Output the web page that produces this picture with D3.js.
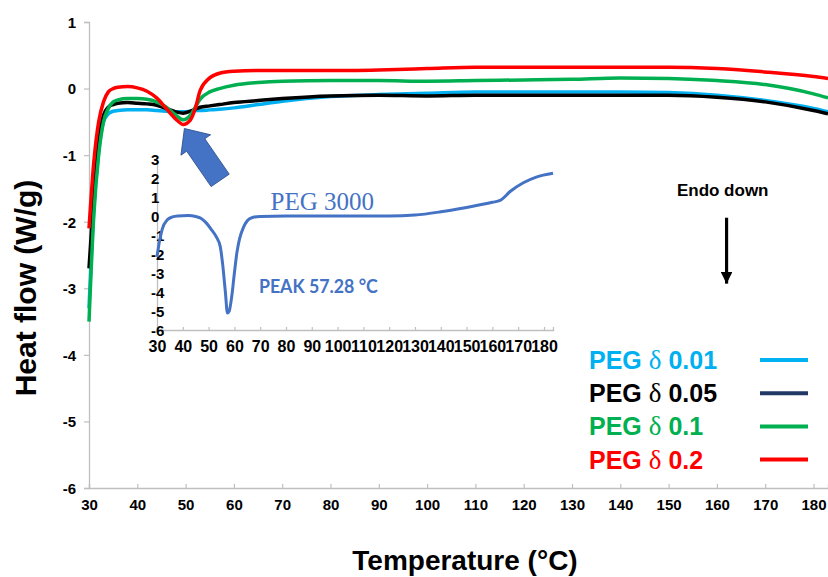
<!DOCTYPE html>
<html>
<head>
<meta charset="utf-8">
<script src="https://cdn.jsdelivr.net/npm/d3@7"></script>
<style>
	body { margin: 0; background: #fff; }
</style>
</head>
<body>
<svg id="chart" width="828" height="577" font-family="Liberation Sans, Arial, sans-serif"></svg>
<script>
// main DSC curves, heat flow (W/g) against temperature (°C)
const temps = [30, 31, 32, 33, 34, 35, 36, 38, 40, 42, 44, 46, 48, 49.5, 51, 52, 53, 55, 57, 60, 65, 70, 80, 90, 100, 110, 120, 130, 140, 150, 160, 170, 180, 183];
const peg001 = [-3.3, -1.8, -0.95, -0.5, -0.38, -0.34, -0.33, -0.32, -0.32, -0.32, -0.33, -0.34, -0.35, -0.35, -0.34, -0.33, -0.33, -0.32, -0.31, -0.29, -0.24, -0.19, -0.12, -0.09, -0.07, -0.05, -0.05, -0.05, -0.05, -0.06, -0.1, -0.18, -0.3, -0.35];
const peg005 = [-2.7, -1.6, -0.8, -0.4, -0.28, -0.24, -0.22, -0.21, -0.22, -0.23, -0.25, -0.3, -0.35, -0.37, -0.34, -0.31, -0.28, -0.26, -0.24, -0.21, -0.18, -0.15, -0.11, -0.1, -0.11, -0.1, -0.1, -0.1, -0.1, -0.1, -0.13, -0.2, -0.33, -0.38];
const peg01 = [-3.5, -1.9, -1.0, -0.5, -0.3, -0.2, -0.17, -0.15, -0.15, -0.16, -0.2, -0.28, -0.4, -0.47, -0.4, -0.28, -0.16, -0.05, 0.0, 0.05, 0.09, 0.11, 0.12, 0.12, 0.11, 0.12, 0.13, 0.14, 0.16, 0.15, 0.12, 0.06, -0.08, -0.14];
const peg02 = [-2.1, -1.1, -0.5, -0.2, -0.05, 0.0, 0.02, 0.03, 0.01, -0.04, -0.14, -0.3, -0.46, -0.54, -0.47, -0.3, -0.03, 0.16, 0.23, 0.26, 0.27, 0.27, 0.27, 0.28, 0.3, 0.32, 0.32, 0.32, 0.32, 0.32, 0.3, 0.25, 0.18, 0.15];

// inset: pure PEG 3000
const insetTemps = [30, 31, 32, 34, 36, 38, 42, 45, 47, 49, 51, 53, 54.5, 55.5, 56.5, 57.3, 58, 59, 60, 61, 62, 63.5, 65, 67, 70, 80, 100, 120, 130, 140, 150, 160, 163, 167, 172, 177, 183.5];
const insetVals = [-2.15, -1.3, -0.7, -0.2, -0.05, 0, 0.02, -0.03, -0.12, -0.35, -0.7, -1.1, -1.6, -2.6, -4.0, -5.1, -5.0, -4.2, -3.0, -1.9, -1.2, -0.6, -0.25, -0.08, -0.02, 0, 0, 0, 0.05, 0.22, 0.45, 0.72, 0.82, 1.3, 1.75, 2.05, 2.25];

const xTicks = d3.range(30, 181, 10);
const yTicks = d3.range(-6, 2, 1);
const insetYTicks = d3.range(-6, 4, 1);

const seriesNames = ["0.01", "0.05", "0.1", "0.2"];
const seriesValues = [peg001, peg005, peg01, peg02];
const lineColors = ["#00B0F0", "#000000", "#00B050", "#FF0000"];
const legendLineColors = ["#00B0F0", "#1F3864", "#00B050", "#FF0000"];
const legendTextColors = ["#00B0F0", "#000000", "#00B050", "#FF0000"];

let svg = d3.select("#chart");
let axisColor = "#BFBFBF";
let plain = d => String(d);

//scales
let x = d3.scaleLinear().domain([30, 183]).range([89, 828]);
let y = d3.scaleLinear().domain([-6, 1]).range([488, 22]);

function styleAxis(g, fontSize)
{
	g.attr("font-family", null);
	g.select(".domain").attr("stroke", axisColor).attr("stroke-width", 1.3);
	g.selectAll(".tick line").attr("stroke", axisColor).attr("stroke-width", 1.2);
	g.selectAll(".tick text")
		.attr("fill", "#000")
		.attr("font-size", fontSize)
		.attr("font-weight", "bold");
}

//minor ticks first, then major
let gx = svg.append("g").attr("transform", "translate(0," + y(-6) + ")");
gx.call(d3.axisBottom(x).tickValues(d3.range(30, 184, 2)).tickSize(-4).tickFormat(""));
gx.call(d3.axisBottom(x).tickValues(xTicks).tickSize(-4).tickPadding(11).tickFormat(plain));
styleAxis(gx, 15);

let gy = svg.append("g").attr("transform", "translate(" + x(30) + ",0)");
gy.call(d3.axisLeft(y).tickValues(d3.range(-6, 1.01, 0.2)).tickSize(5).tickFormat(""));
gy.call(d3.axisLeft(y).tickValues(yTicks).tickSize(5).tickPadding(8).tickFormat(plain));
styleAxis(gy, 15);
gy.selectAll(".tick text").attr("dy", "0.36em");

//axis titles
svg.append("text")
	.attr("x", 465)
	.attr("y", 570)
	.attr("text-anchor", "middle")
	.attr("font-size", 28)
	.attr("font-weight", "bold")
	.text("Temperature (°C)");

svg.append("text")
	.attr("transform", "translate(36,288) rotate(-90)")
	.attr("text-anchor", "middle")
	.attr("font-size", 30)
	.attr("font-weight", "bold")
	.text("Heat flow (W/g)");

//inset
let ix = d3.scaleLinear().domain([30, 183.5]).range([157, 553]);
let iy = d3.scaleLinear().domain([-6, 3]).range([330, 159]);

let igx = svg.append("g").attr("transform", "translate(0," + iy(-6) + ")");
igx.call(d3.axisBottom(ix).tickValues(d3.range(30, 184, 1)).tickSize(-3).tickFormat(""));
igx.call(d3.axisBottom(ix).tickValues(xTicks).tickSize(-3).tickPadding(11).tickFormat(plain));
styleAxis(igx, 16);

let igy = svg.append("g").attr("transform", "translate(" + ix(30) + ",0)");
igy.call(d3.axisRight(iy).tickValues(d3.range(-6, 3.01, 0.2)).tickSize(3).tickFormat(""));
igy.call(d3.axisLeft(iy).tickValues(insetYTicks).tickSize(0).tickPadding(6).tickFormat(plain));
styleAxis(igy, 15);
igy.selectAll(".tick text").attr("dy", "0.36em");

let insetLine = d3.line()
	.x((d, i) => ix(insetTemps[i]))
	.y(d => iy(d))
	.curve(d3.curveMonotoneX);

svg.append("path")
	.datum(insetVals)
	.attr("fill", "none")
	.attr("stroke", "#4472C4")
	.attr("stroke-width", 3)
	.attr("stroke-linejoin", "round")
	.attr("d", insetLine);

svg.append("text")
	.attr("x", ix(74))
	.attr("y", iy(0.3))
	.attr("font-family", "Liberation Serif, Times New Roman, serif")
	.attr("font-size", 25)
	.attr("fill", "#4472C4")
	.text("PEG 3000");

svg.append("text")
	.attr("x", ix(69.5))
	.attr("y", iy(-4.05))
	.attr("font-family", "Lato, sans-serif")
	.attr("font-size", 18)
	.attr("font-weight", "bold")
	.attr("fill", "#4472C4")
	.attr("textLength", 119)
	.attr("lengthAdjust", "spacingAndGlyphs")
	.text("PEAK 57.28 °C");

//main curves
let line = d3.line()
	.x((d, i) => x(temps[i]))
	.y(d => y(d))
	.curve(d3.curveMonotoneX);

for (let i = 0; i < seriesValues.length; i++)
{
	svg.append("path")
		.datum(seriesValues[i])
		.attr("fill", "none")
		.attr("stroke", lineColors[i])
		.attr("stroke-width", 3.5)
		.attr("stroke-linejoin", "round")
		.attr("d", line);
}

//block arrow pointing at the melting dip
let tipX = x(49.75), tipY = y(-0.6);
svg.append("polygon")
	.attr("transform", "translate(" + tipX + "," + tipY + ") rotate(55.4)")
	.attr("points", "0,0 20,-18 20,-11 63,-11 63,11 20,11 20,18")
	.attr("fill", "#4472C4")
	.attr("stroke", "#2F528F")
	.attr("stroke-width", 0.8);

//endo down
svg.append("text")
	.attr("x", x(161.2))
	.attr("y", y(-1.62))
	.attr("text-anchor", "middle")
	.attr("font-size", 17)
	.attr("font-weight", "bold")
	.text("Endo down");

svg.append("defs").append("marker")
	.attr("id", "head")
	.attr("viewBox", "0 0 10 10")
	.attr("refX", 10)
	.attr("refY", 5)
	.attr("markerWidth", 3.6)
	.attr("markerHeight", 3.6)
	.attr("markerUnits", "strokeWidth")
	.attr("orient", "auto")
	.append("path")
	.attr("d", "M0,0 L10,5 L0,10 z")
	.attr("fill", "#000");

svg.append("line")
	.attr("x1", x(162))
	.attr("x2", x(162))
	.attr("y1", y(-1.94))
	.attr("y2", y(-2.93))
	.attr("stroke", "#000")
	.attr("stroke-width", 3.2)
	.attr("marker-end", "url(#head)");

//legend
let legend = svg.append("g");
for (let i = 0; i < seriesNames.length; i++)
{
	let rowY = 369 + i * 33.2;
	let t = legend.append("text")
		.attr("x", 589)
		.attr("y", rowY)
		.attr("font-size", 25)
		.attr("font-weight", "bold")
		.attr("fill", legendTextColors[i]);
	t.append("tspan").text("PEG ");
	t.append("tspan")
		.attr("font-family", "Liberation Serif, Times New Roman, serif")
		.attr("font-weight", "normal")
		.attr("font-size", 27)
		.text("δ");
	t.append("tspan").text(" " + seriesNames[i]);

	legend.append("line")
		.attr("x1", 760)
		.attr("x2", 808)
		.attr("y1", rowY - 9)
		.attr("y2", rowY - 9)
		.attr("stroke", legendLineColors[i])
		.attr("stroke-width", 4);
}
</script>
</body>
</html>
